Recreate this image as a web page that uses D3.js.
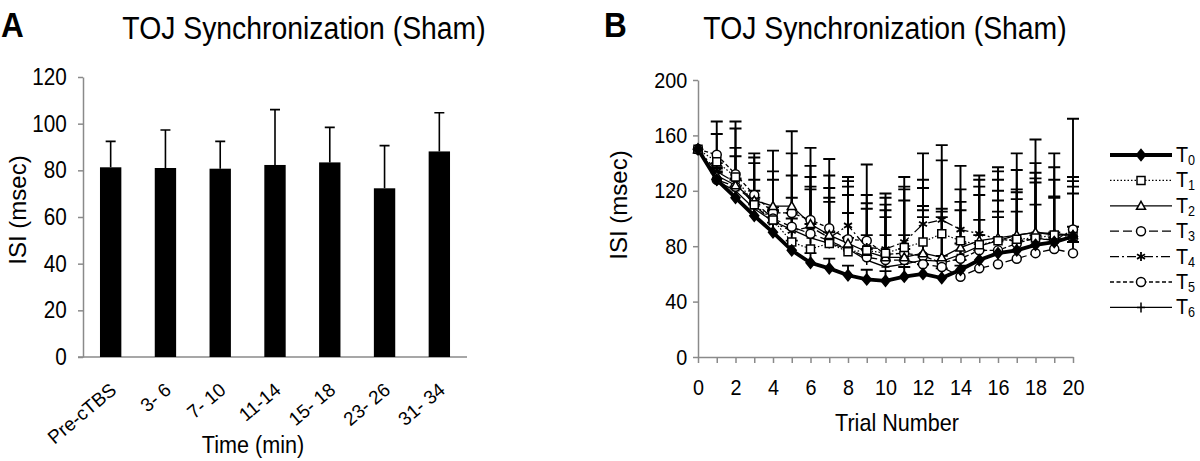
<!DOCTYPE html>
<html>
<head>
<meta charset="utf-8">
<script src="https://cdn.jsdelivr.net/npm/d3@7"></script>
<style>
  body { margin: 0; background: #fff; }
  text { font-family: "Liberation Sans", Arial, Helvetica, sans-serif; fill: #000; }
</style>
</head>
<body>
<svg id="chart" width="1200" height="461"></svg>
<script>
// ---- data: panel A (bars) ----
const periods = ["Pre-cTBS", "3- 6", "7- 10", "11-14", "15- 18", "23- 26", "31- 34"];
const periodMean = [81.3, 81, 80.7, 82.3, 83.4, 72.3, 88.1];
const periodErr = [11.1, 16.3, 11.7, 23.7, 15, 18.3, 16.6];
const ticksA = [0, 20, 40, 60, 80, 100, 120];

// ---- data: panel B (lines) ----
const trials = [0, 1, 2, 3, 4, 5, 6, 7, 8, 9, 10, 11, 12, 13, 14, 15, 16, 17, 18, 19, 20];
const ticksB = [0, 40, 80, 120, 160, 200];
const seriesNames = ["T0", "T1", "T2", "T3", "T4", "T5", "T6"];
const t0Mean = [150, 128, 115, 102, 90, 77, 68, 64, 59, 56, 55, 58, 60, 57, 63, 70, 75, 77, 81, 83, 87];
const t1Mean = [150, 141, 130, 110, 99, 83, 78, 82, 76, 77, 75, 79, 83, 89, 84, 81, 84, 85, 86, 88, 87];
const t2Mean = [150, 131, 124, 113, 109, 109, 96, 88, 82, 76, 72, 72, 75, 72, 79, 84, 86, 88, 90, 89, 88];
const t3Mean = [150, 128, 123, 112, 100, 94, 89, 84, 78, 72, 70, 70, 67, 65, 58, 64, 67, 71, 75, 78, 75];
const t4Mean = [150, 134, 126, 110, 97, 91, 94, 86, 95, 79, 78, 83, 96, 99, 92, 89, 85, 84, 85, 85, 86];
const t5Mean = [150, 146, 132, 117, 104, 104, 99, 93, 85, 84, 74, 75, 73, 68, 71, 77, 77, 82, 86, 84, 92];
const t6Mean = [150, 127, 120, 107, 98, 92, 86, 82, 78, 70, 65, 67, 70, 69, 74, 80, 84, 88, 90, 88, 88];
const t0Err = [0, 8, 8, 8, 7, 7, 7, 7, 7, 7, 7, 7, 7, 7, 7, 7, 26, 7, 7, 7, 7];
const t1Err = [0, 20, 21, 34, 29, 32, 45, 33, 41, 34, 40, 44, 45, 53, 37, 47, 50, 36, 47, 49, 40];
const t2Err = [0, 6, 21, 15, 25, 38, 34, 34, 41, 31, 34, 41, 34, 33, 27, 33, 34, 31, 39, 27, 35];
const t3Err = [0, 6, 6, 8, 8, 10, 32, 28, 26, 16, 31, 8, 34, 8, 8, 35, 38, 34, 35, 8, 8];
const t4Err = [0, 6, 39, 30, 8, 40, 44, 45, 35, 38, 40, 47, 51, 54, 46, 42, 52, 51, 55, 62, 44];
const t5Err = [0, 24, 38, 30, 45, 59, 52, 50, 42, 55, 36, 46, 49, 39, 41, 46, 51, 65, 71, 44, 80];
const t6Err = [0, 6, 8, 8, 8, 8, 10, 8, 8, 8, 23, 21, 36, 32, 8, 8, 29, 26, 36, 27, 30];

const means = [t0Mean, t1Mean, t2Mean, t3Mean, t4Mean, t5Mean, t6Mean];
const errs = [t0Err, t1Err, t2Err, t3Err, t4Err, t5Err, t6Err];

// line / marker styles per series
const styles = {
  T0: { width: 3.8, dash: null,        marker: "diamond" },
  T1: { width: 1.2, dash: "1.5,2",     marker: "square" },
  T2: { width: 1.3, dash: null,        marker: "triangle" },
  T3: { width: 1.3, dash: "9,4",       marker: "circle" },
  T4: { width: 1.3, dash: "9,3,2,3",   marker: "star" },
  T5: { width: 1.3, dash: "4,2.5",     marker: "circle" },
  T6: { width: 1.3, dash: null,        marker: "plus" }
};
const markerPath = {
  diamond: "M0,-5.5L4.5,0L0,5.5L-4.5,0Z",
  square: "M-4,-4H4V4H-4Z",
  triangle: "M0,-4.5L4.5,3.5H-4.5Z",
  circle: "M4.5,0A4.5,4.5 0 1,1 -4.5,0A4.5,4.5 0 1,1 4.5,0Z",
  star: "M0,-4.5V4.5M-4,-2.3L4,2.3M-4,2.3L4,-2.3",
  plus: "M-4,0H4M0,-5V5"
};

const SX = 0.9; // the original lettering is slightly condensed
const axisColor = "#8a8a8a";
const svg = d3.select("#chart");

function label(x, y, txt, size, anchor, weight) {
  return svg.append("text")
    .attr("transform", `translate(${x},${y}) scale(${SX},1)`)
    .attr("text-anchor", anchor || "middle")
    .attr("font-size", size)
    .attr("font-weight", weight || "normal")
    .text(txt);
}

function styleAxis(g, size) {
  g.attr("font-size", size).attr("font-family", null);
  g.select(".domain").attr("stroke", axisColor).attr("stroke-width", 1.5);
  g.selectAll(".tick line").attr("stroke", axisColor).attr("stroke-width", 1.5);
  g.selectAll(".tick text").attr("fill", "#000");
}

function markerFill(m) {
  if (m === "diamond") return "#000";
  return (m === "star" || m === "plus") ? "none" : "#fff";
}

// ================= Panel A =================
const xA = d3.scaleBand().domain(periods).range([83, 467]).paddingInner(0.61).paddingOuter(0.31);
const yA = d3.scaleLinear().domain([0, 120]).range([357, 77]);

const yAxisA = svg.append("g")
  .attr("transform", `translate(${xA.range()[0]},0)`)
  .call(d3.axisLeft(yA).tickValues(ticksA).tickSize(5).tickPadding(13).tickSizeOuter(0));
styleAxis(yAxisA, 23);
yAxisA.selectAll(".tick text").attr("transform", `scale(${SX},1)`);

svg.append("line")
  .attr("x1", xA.range()[0] - 5).attr("x2", xA.range()[1])
  .attr("y1", yA(0)).attr("y2", yA(0))
  .attr("stroke", axisColor).attr("stroke-width", 1.5);

const barData = periods.map((p, i) => ({ p, m: periodMean[i], e: periodErr[i] }));
const bars = svg.append("g");
bars.selectAll("path.err")
  .data(barData)
  .enter().append("path")
    .attr("d", d => {
      const cx = xA(d.p) + xA.bandwidth() / 2;
      return `M${cx},${yA(d.m)}V${yA(d.m + d.e)}M${cx - 5},${yA(d.m + d.e)}H${cx + 5}`;
    })
    .attr("stroke", "#000").attr("stroke-width", 1.6).attr("fill", "none");
bars.selectAll("rect")
  .data(barData)
  .enter().append("rect")
    .attr("x", d => xA(d.p))
    .attr("y", d => yA(d.m))
    .attr("width", xA.bandwidth())
    .attr("height", d => yA(0) - yA(d.m))
    .attr("fill", "#000");

svg.append("g").selectAll("text")
  .data(periods)
  .enter().append("text")
    .attr("transform", d => `translate(${xA(d) + xA.bandwidth() / 2 + 7},392) rotate(-40)`)
    .attr("text-anchor", "end")
    .attr("font-size", 19)
    .text(d => d);

label(253, 453, "Time (min)", 24);
svg.append("text")
  .attr("transform", "translate(26,210) rotate(-90)")
  .attr("text-anchor", "middle").attr("font-size", 24)
  .text("ISI (msec)");
label(304, 39, "TOJ Synchronization (Sham)", 31.5);
label(1, 37, "A", 35, "start", "bold");

// ================= Panel B =================
const xB = d3.scaleLinear().domain([0, 20]).range([698, 1073]);
const yB = d3.scaleLinear().domain([0, 200]).range([357, 80]);

const yAxisB = svg.append("g")
  .attr("transform", `translate(${xB(0)},0)`)
  .call(d3.axisLeft(yB).tickValues(ticksB).tickSize(5).tickPadding(7).tickSizeOuter(0));
styleAxis(yAxisB, 22);
yAxisB.selectAll(".tick text").attr("transform", `scale(${SX},1)`);

const xAxisB = svg.append("g")
  .attr("transform", `translate(0,${yB(0)})`)
  .call(d3.axisBottom(xB).tickValues(trials).tickSize(6).tickPadding(16).tickSizeOuter(0)
    .tickFormat(d => d % 2 === 0 ? d : ""));
styleAxis(xAxisB, 22);
xAxisB.selectAll(".tick text").attr("transform", `scale(${SX},1)`);

const plot = svg.append("g");
const series = seriesNames.map((name, k) => ({
  name,
  pts: trials.map((t, i) => ({ t, m: means[k][i], e: errs[k][i] }))
}));

// error bars (upper only)
series.forEach(s => {
  plot.append("g").selectAll("path")
    .data(s.pts.filter(p => p.e > 0))
    .enter().append("path")
      .attr("d", p => {
        const cx = xB(p.t), top = yB(p.m + p.e);
        return `M${cx},${yB(p.m)}V${top}M${cx - 6},${top}H${cx + 6}`;
      })
      .attr("stroke", "#000").attr("stroke-width", 1.9).attr("fill", "none");
});

const lineGen = d3.line().x(p => xB(p.t)).y(p => yB(p.m));
const drawOrder = series.slice().reverse();
drawOrder.forEach(s => {
  const st = styles[s.name];
  plot.append("path")
    .datum(s.pts)
    .attr("d", lineGen)
    .attr("fill", "none")
    .attr("stroke", "#000")
    .attr("stroke-width", st.width)
    .attr("stroke-dasharray", st.dash);
});
drawOrder.forEach(s => {
  const st = styles[s.name];
  plot.append("g").selectAll("path")
    .data(s.pts)
    .enter().append("path")
      .attr("transform", p => `translate(${xB(p.t)},${yB(p.m)})`)
      .attr("d", markerPath[st.marker])
      .attr("fill", markerFill(st.marker))
      .attr("stroke", "#000")
      .attr("stroke-width", st.marker === "star" ? 1.8 : 1.5);
});

label(897, 431, "Trial Number", 24);
svg.append("text")
  .attr("transform", "translate(627,205) rotate(-90)")
  .attr("text-anchor", "middle").attr("font-size", 24)
  .text("ISI (msec)");
label(885, 39, "TOJ Synchronization (Sham)", 31.5);
label(604, 37, "B", 35, "start", "bold");

// legend
const legend = svg.append("g");
const legRows = legend.selectAll("g")
  .data(seriesNames)
  .enter().append("g")
    .attr("transform", (d, i) => `translate(1110,${155 + i * 25.4})`);
legRows.append("line")
  .attr("x1", 0).attr("x2", 62)
  .attr("stroke", "#000")
  .attr("stroke-width", d => styles[d].width)
  .attr("stroke-dasharray", d => styles[d].dash);
legRows.append("path")
  .attr("transform", "translate(31,0)")
  .attr("d", d => markerPath[styles[d].marker])
  .attr("fill", d => markerFill(styles[d].marker))
  .attr("stroke", "#000")
  .attr("stroke-width", d => styles[d].marker === "star" ? 1.8 : 1.5);
const legText = legRows.append("text")
  .attr("transform", `translate(66,7) scale(${SX},1)`)
  .attr("font-size", 22);
legText.append("tspan").text("T");
legText.append("tspan").attr("font-size", 14).attr("dy", 3).text(d => d.slice(1));
</script>
</body>
</html>
